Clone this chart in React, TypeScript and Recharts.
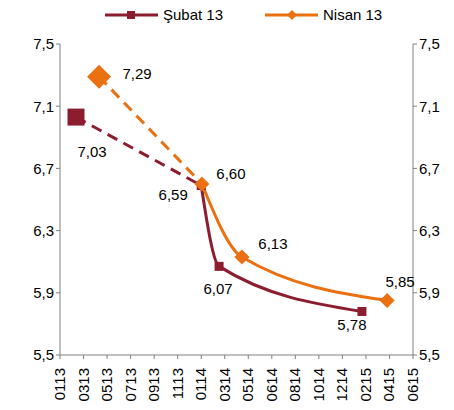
import { LabelList, Line, LineChart, XAxis, YAxis } from "recharts";

const monthTicks = [
  "0113", "0313", "0513", "0713", "0913", "1113", "0114", "0314",
  "0514", "0614", "0814", "1014", "1214", "0215", "0415", "0615",
];
const yTicks = [5.5, 5.9, 6.3, 6.7, 7.1, 7.5];

// position on the month axis (tick index units)
const subatX = [0.68, 6.0, 6.76, 12.83];
const subatY = [7.03, 6.59, 6.07, 5.78];
const nisanX = [1.66, 6.03, 7.73, 13.9];
const nisanY = [7.29, 6.6, 6.13, 5.85];

const SUBAT = "#8C1D2E";
const NISAN = "#EB7011";
const FONT = "'Liberation Sans', Arial, sans-serif";

const subatPts = subatX.map((x, i) => ({ x, v: subatY[i], n: i }));
const nisanPts = nisanX.map((x, i) => ({ x, v: nisanY[i], n: i }));

// label offsets from each point, by original point index
const subatLabelOff = [[16, 34], [-28, 9], [-1, 22], [-10, 13]];
const nisanLabelOff = [[38, -3], [29, -10], [31, -14], [13, -19]];

const fmt = (v: number) => v.toFixed(2).replace(".", ",");

function squareDot(size: number, onlyFirst: boolean) {
  return (p: any) => {
    if (onlyFirst && p.index !== 0) return <g key={p.key} />;
    return (
      <rect key={p.key} x={p.cx - size / 2} y={p.cy - size / 2} width={size} height={size} fill={SUBAT} />
    );
  };
}

function diamondDot(r: number, onlyFirst: boolean) {
  return (p: any) => {
    if (onlyFirst && p.index !== 0) return <g key={p.key} />;
    const { cx, cy } = p;
    return (
      <polygon
        key={p.key}
        points={`${cx},${cy - r} ${cx + r},${cy} ${cx},${cy + r} ${cx - r},${cy}`}
        fill={NISAN}
      />
    );
  };
}

function pointLabel(data: { n: number }[], offs: number[][], onlyFirst: boolean) {
  return (p: any) => {
    if (onlyFirst && p.index !== 0) return null;
    const n = data[p.index].n;
    const [dx, dy] = offs[n];
    return (
      <text
        x={p.x + dx}
        y={p.y + dy}
        textAnchor="middle"
        dominantBaseline="central"
        fontSize={15}
        fontFamily={FONT}
        fill="#000"
      >
        {fmt(Number(p.value))}
      </text>
    );
  };
}

const MonthTick = (p: any) => (
  <text
    transform={`translate(${p.x + 5},${p.y + 7}) rotate(-90)`}
    textAnchor="end"
    fontSize={15}
    fontFamily={FONT}
    fill="#000"
  >
    {monthTicks[p.payload.value]}
  </text>
);

const LegendBox = () => (
  <svg width={454} height={30} style={{ position: "absolute", left: 0, top: 0 }}>
    <line x1={105} x2={158} y1={15} y2={15} stroke={SUBAT} strokeWidth={3} />
    <rect x={127} y={11} width={8} height={8} fill={SUBAT} />
    <text x={163} y={20} fontSize={15} fontFamily={FONT}>Şubat 13</text>
    <line x1={265} x2={318} y1={15} y2={15} stroke={NISAN} strokeWidth={3} />
    <polygon points="292,10 297,15 292,20 287,15" fill={NISAN} />
    <text x={323} y={20} fontSize={15} fontFamily={FONT}>Nisan 13</text>
  </svg>
);

const yFmt = (v: number) => v.toFixed(1).replace(".", ",");

export default function App() {
  return (
    <div style={{ position: "absolute", left: 0, top: 0, width: 454, height: 410, background: "#fff" }}>
      <LineChart width={454} height={410} margin={{ top: 44, right: 0, left: 0, bottom: 0 }}>
        <XAxis
          dataKey="x"
          type="number"
          domain={[0, 15]}
          ticks={monthTicks.map((_, i) => i)}
          interval={0}
          height={55}
          stroke="#808080"
          tickSize={4}
          tick={<MonthTick />}
        />
        <YAxis
          yAxisId="l"
          domain={[5.5, 7.5]}
          ticks={yTicks}
          width={60}
          stroke="#808080"
          tickSize={4}
          tickFormatter={yFmt}
          tick={{ fill: "#000", fontSize: 15, fontFamily: FONT }}
        />
        <YAxis
          yAxisId="r"
          orientation="right"
          domain={[5.5, 7.5]}
          ticks={yTicks}
          width={41}
          stroke="#808080"
          tickSize={4}
          tickFormatter={yFmt}
          tick={{ fill: "#000", fontSize: 15, fontFamily: FONT }}
        />
        <Line
          yAxisId="r"
          data={subatPts}
          dataKey="v"
          stroke="none"
          dot={false}
          activeDot={false}
          legendType="none"
          isAnimationActive={false}
        />
        <Line
          yAxisId="l"
          data={subatPts.slice(0, 2)}
          dataKey="v"
          type="linear"
          stroke={SUBAT}
          strokeWidth={3}
          strokeDasharray="11 7"
          dot={squareDot(17, true)}
          activeDot={false}
          isAnimationActive={false}
        >
          <LabelList dataKey="v" content={pointLabel(subatPts.slice(0, 2), subatLabelOff, true)} />
        </Line>
        <Line
          yAxisId="l"
          data={nisanPts.slice(0, 2)}
          dataKey="v"
          type="linear"
          stroke={NISAN}
          strokeWidth={3}
          strokeDasharray="11 7"
          dot={diamondDot(12, true)}
          activeDot={false}
          isAnimationActive={false}
        >
          <LabelList dataKey="v" content={pointLabel(nisanPts.slice(0, 2), nisanLabelOff, true)} />
        </Line>
        <Line
          yAxisId="l"
          data={subatPts.slice(1)}
          dataKey="v"
          type="monotone"
          stroke={SUBAT}
          strokeWidth={3}
          dot={squareDot(9, false)}
          activeDot={false}
          isAnimationActive={false}
        >
          <LabelList dataKey="v" content={pointLabel(subatPts.slice(1), subatLabelOff, false)} />
        </Line>
        <Line
          yAxisId="l"
          data={nisanPts.slice(1)}
          dataKey="v"
          type="monotone"
          stroke={NISAN}
          strokeWidth={3}
          dot={diamondDot(7.5, false)}
          activeDot={false}
          isAnimationActive={false}
        >
          <LabelList dataKey="v" content={pointLabel(nisanPts.slice(1), nisanLabelOff, false)} />
        </Line>
      </LineChart>
      <LegendBox />
    </div>
  );
}
